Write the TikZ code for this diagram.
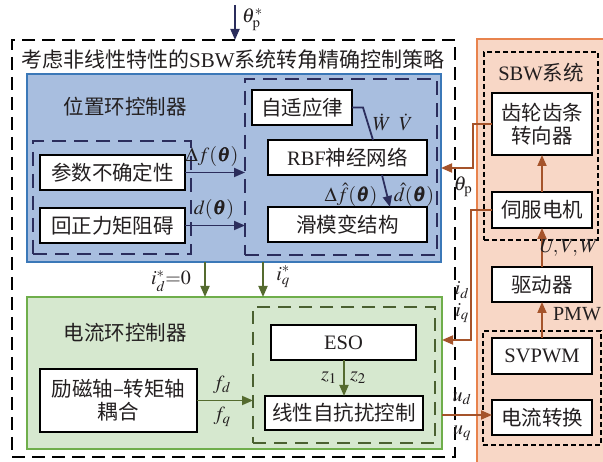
\documentclass[tikz,border=0pt]{standalone}
\usepackage{amsmath}
\usepackage{mathptmx}
\usepackage{bm}
\usepackage{fontspec}
\setmainfont{Liberation Serif}
\newfontfamily\cjk{Noto Sans CJK SC}
\newcommand{\zh}[1]{{\cjk #1}}
\usetikzlibrary{arrows.meta}
\definecolor{txt}{HTML}{231F20}
\definecolor{bluefill}{HTML}{A8BEDF}
\definecolor{blueline}{HTML}{3B78B8}
\definecolor{greenfill}{HTML}{D6E8CF}
\definecolor{greenline}{HTML}{6FAE4B}
\definecolor{orangefill}{HTML}{F8D7C6}
\definecolor{orangeline}{HTML}{E8834D}
\definecolor{navy}{HTML}{2B2D5C}
\definecolor{olive}{HTML}{4A6030}
\definecolor{garrow}{HTML}{556B2F}
\definecolor{brown}{HTML}{A5532A}
\tikzset{
  box/.style={draw=black, fill=white, line width=1.6pt, inner sep=0pt, outer sep=0pt,
    font=\fontsize{20.5}{23}\selectfont, text=txt, align=center},
  cont/.style={inner sep=0pt, outer sep=0pt},
  lab/.style={font=\fontsize{20}{23}\selectfont, text=txt, inner sep=0pt},
  ttl/.style={font=\fontsize{20.5}{23}\selectfont, text=txt, inner sep=0pt},
  navdash/.style={draw=navy, line width=1.6pt, dash pattern=on 14pt off 8pt},
  olivedash/.style={draw=olive, line width=1.6pt, dash pattern=on 13pt off 8pt},
  blackdash/.style={draw=black, line width=1.5pt, dash pattern=on 13pt off 7pt},
  smalldash/.style={draw=black, line width=1.2pt, dash pattern=on 5pt off 3pt},
  arrN/.style={draw=navy, line width=1.8pt, -{Triangle[length=11pt,width=9pt]}},
  arrG/.style={draw=garrow, line width=1.8pt, -{Triangle[length=11pt,width=9pt]}},
  arrB/.style={draw=brown, line width=1.8pt, -{Triangle[length=11pt,width=9pt]}},
}
\begin{document}
\begin{tikzpicture}[x=1pt,y=-1pt]
\useasboundingbox (0,0) rectangle (603,462);
\clip (0,0) rectangle (603,462);
% containers
\node[cont, blackdash, minimum width=443, minimum height=417] (outer) at (233.5,248.5) {};
\node[cont, draw=orangeline, fill=orangefill, line width=2pt, minimum width=135, minimum height=431] (orange) at (544.5,254.5) {};
\node[cont, draw=blueline, fill=bluefill, line width=2pt, minimum width=414, minimum height=188] (blue) at (234,168) {};
\node[cont, draw=greenline, fill=greenfill, line width=2pt, minimum width=415, minimum height=152] (green) at (234.5,373) {};
\node[cont, navdash, minimum width=158, minimum height=113] (navL) at (112,197.5) {};
\node[cont, navdash, minimum width=192, minimum height=176] (navR) at (341,167) {};
\node[cont, olivedash, minimum width=182, minimum height=136] (oliv) at (344,375) {};
\node[cont, smalldash, minimum width=114, minimum height=188] (sbw) at (541,146) {};
\node[cont, smalldash, minimum width=118, minimum height=114] (svpc) at (542,388) {};
% titles
\node[ttl, anchor=west, font=\fontsize{21}{24}\selectfont] (title) at (21,60) {\zh{考虑非线性特性的}SBW\zh{系统转角精确控制策略}};
\node[ttl] (tpos) at (125,107) {\zh{位置环控制器}};
\node[ttl] (tcur) at (125,333) {\zh{电流环控制器}};
\node[ttl] (tsbw) at (541,73) {SBW\zh{系统}};
% boxes
\node[box, minimum width=145, minimum height=35] (p1) at (112.5,172.5) {\zh{参数不确定性}};
\node[box, minimum width=145, minimum height=35] (p2) at (112.5,225.5) {\zh{回正力矩阻碍}};
\node[box, minimum width=100, minimum height=35] (ad) at (302,107.5) {\zh{自适应律}};
\node[box, minimum width=159, minimum height=35] (rbf) at (347.5,157.5) {RBF\zh{神经网络}};
\node[box, minimum width=159, minimum height=35] (smc) at (347.5,224.5) {\zh{滑模变结构}};
\node[box, minimum width=100, minimum height=62] (gear) at (542,124) {\zh{齿轮齿条}\\\zh{转向器}};
\node[box, minimum width=100, minimum height=36] (servo) at (542,210) {\zh{伺服电机}};
\node[box, minimum width=100, minimum height=35] (drv) at (542,284.5) {\zh{驱动器}};
\node[box, minimum width=100, minimum height=36] (svp) at (542,356) {SVPWM};
\node[box, minimum width=100, minimum height=35] (cc) at (542,417.5) {\zh{电流转换}};
\node[box, minimum width=145, minimum height=35] (eso) at (343.5,342.5) {ESO};
\node[box, minimum width=158, minimum height=34] (ladrc) at (344,413) {\zh{线性自抗扰控制}};
\node[box, minimum width=157, minimum height=63] (cpl) at (118.5,400.5) {\zh{励磁轴–转矩轴}\\\zh{耦合}};
% input theta
\coordinate (tin) at (235,5);
\draw[arrN] (tin) -- (tin |- outer.north);
\node[lab, anchor=west] (ltin) at (242,20) {$\theta_{\mathrm{p}}^{*}$};
% position loop
\draw[arrN] (p1.east) -- (p1.east -| navR.west);
\node[lab] (ldf) at (212,157) {$\Delta f(\bm{\theta})$};
\draw[arrN] (p2.east) -- (p2.east -| navR.west);
\node[lab] (ld) at (214,210) {$d(\bm{\theta})$};
\coordinate (adk) at (363,107.5);
\draw[navy, line width=1.8pt] (ad.east) -- (adk) -- (rbf.north -| 373,0);
\node[lab] (lw) at (382,122) {$\dot{W}$};
\node[lab] (lv) at (406,122) {$\dot{V}$};
\draw[arrN] (rbf.south -| 382,0) -- (smc.north -| 390,0);
\node[lab] (ldfh) at (351,195) {$\Delta\hat{f}(\bm{\theta})$};
\node[lab] (ldh) at (414,195) {$\hat{d}(\bm{\theta})$};
% feedback theta_p
\coordinate (gk) at (473,124);
\draw[arrB] (gear.west) -- (gk) -- (gk |- 0,168) -- (blue.east |- 0,168);
\node[lab] (ltp) at (463,187) {$\theta_{\mathrm{p}}$};
% SBW chain
\draw[arrB] (servo.north) -- (gear.south);
\draw[arrB] (drv.north) -- (servo.south);
\node[lab] (luvw) at (569,248) {$U\!,V\!,W$};
\draw[arrB] (svp.north) -- (drv.south);
\node[lab] (lpmw) at (577,314) {PMW};
% current feedback
\coordinate (sk) at (471,210);
\draw[arrB] (servo.west) -- (sk) -- (sk |- 0,340) -- (green.east |- 0,340);
\node[lab] (lid) at (462,290) {$i_d$};
\node[lab] (liq) at (462,313) {$i_q$};
% output u
\draw[arrB] (green.east |- 0,415) -- (cc.west |- 0,415);
\node[lab] (lud) at (462,399) {$u_d$};
\node[lab] (luq) at (462,433) {$u_q$};
% references
\draw[arrG] (blue.south -| 205,0) -- (green.north -| 205,0);
\node[lab] (lidr) at (171,281) {$i_d^{*}{=}0$};
\draw[arrG] (blue.south -| 263,0) -- (green.north -| 263,0);
\node[lab] (liqr) at (283,277) {$i_q^{*}$};
% current loop internals
\draw[arrG] (eso.south -| ladrc.north) -- (ladrc.north);
\node[lab] (lz1) at (329,378) {$z_1$};
\node[lab] (lz2) at (358,378) {$z_2$};
\draw[arrG] (cpl.east) -- (cpl.east -| oliv.west);
\node[lab] (lfd) at (222,385) {$f_d$};
\node[lab] (lfq) at (222,417) {$f_q$};
\end{tikzpicture}
\end{document}
